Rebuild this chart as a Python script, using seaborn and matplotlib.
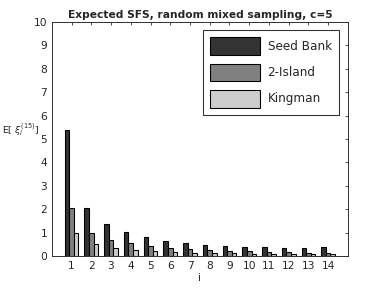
import matplotlib
matplotlib.use('Agg')
import matplotlib.pyplot as plt
import pandas as pd
import seaborn as sns

classes = list(range(1, 15))
seed_bank = [5.38, 2.05, 1.37, 1.02, 0.80, 0.66, 0.56, 0.48, 0.43, 0.39, 0.37, 0.34, 0.33, 0.37]
two_island = [2.05, 1.00, 0.70, 0.55, 0.42, 0.35, 0.30, 0.26, 0.23, 0.20, 0.18, 0.16, 0.15, 0.12]
kingman = [1.00, 0.50, 0.33, 0.25, 0.20, 0.17, 0.14, 0.125, 0.11, 0.10, 0.09, 0.083, 0.077, 0.071]
models = ['Seed Bank', '2-Island', 'Kingman']
colors = ['#333333', '#808080', '#cccccc']

rows = []
for name, vals in zip(models, [seed_bank, two_island, kingman]):
    for i, v in zip(classes, vals):
        rows.append({'i': i, 'value': v, 'model': name})
df = pd.DataFrame(rows)

sns.set_theme(style='white')
plt.rcParams['font.family'] = ['DejaVu Sans']

fig = plt.figure(figsize=(4, 3), dpi=96)
ax = fig.add_axes([0.135, 0.111, 0.771, 0.813])

sns.barplot(data=df, x='i', y='value', hue='model', hue_order=models,
            palette=colors, width=0.7, edgecolor='black', linewidth=0.8,
            saturation=1, ax=ax)

ax.set_xlim(-1, 14)
ax.set_ylim(0, 10)
ax.set_yticks(range(0, 11))
ax.tick_params(direction='in', length=2.5, width=0.6, labelsize=8,
               top=True, right=True, colors='#262626')
for sp in ax.spines.values():
    sp.set_color('#262626')
    sp.set_linewidth(0.7)

ax.set_title('Expected SFS, random mixed sampling, c=5', fontsize=8,
             fontweight='bold', pad=3)
ax.set_xlabel('i', fontsize=8, labelpad=2)
ax.set_ylabel(r'E[ $\xi_i^{(15)}$]', fontsize=7, rotation=0, ha='left', va='center')
ax.yaxis.set_label_coords(-0.168, 0.54)

leg = ax.legend(loc='upper right', fontsize=9, handlelength=4.2,
                handleheight=1.9, labelspacing=0.7, borderpad=0.6,
                handletextpad=0.6, frameon=True, fancybox=False, edgecolor='black',
                bbox_to_anchor=(0.99, 0.99))
leg.get_frame().set_linewidth(0.8)

fig.savefig('out.png', dpi=96)
